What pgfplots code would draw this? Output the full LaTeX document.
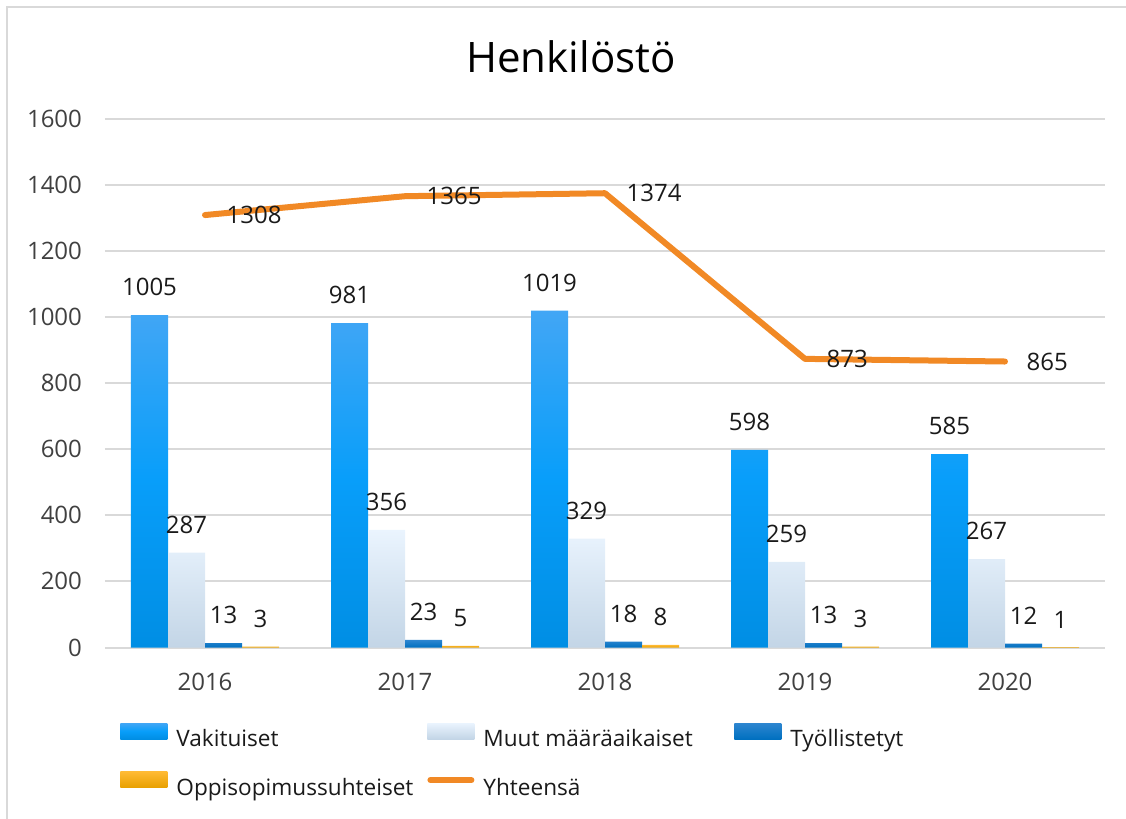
\documentclass[border=0pt]{standalone}
\usepackage{fontspec}
\setmainfont{Open Sans}
\usepackage{pgfplots}
\pgfplotsset{compat=1.18}

\definecolor{gridgray}{RGB}{217,217,217}
\definecolor{ticktext}{RGB}{64,64,64}
\definecolor{labeltext}{RGB}{26,26,26}
\definecolor{vakTop}{RGB}{66,166,245}
\definecolor{vakMid}{RGB}{8,158,250}
\definecolor{vakBot}{RGB}{0,142,228}
\definecolor{muuTop}{RGB}{234,244,254}
\definecolor{muuBot}{RGB}{195,213,230}
\definecolor{tyoTop}{RGB}{46,134,208}
\definecolor{tyoBot}{RGB}{0,112,192}
\definecolor{oppTop}{RGB}{255,186,52}
\definecolor{oppBot}{RGB}{232,160,0}
\definecolor{lineorange}{RGB}{241,137,37}

\pgfplotsset{
  barpatch/.style={legend image code/.code={\path[##1] (0pt,0.3pt) rectangle (23.5pt,8.3pt);}},
  linepatch/.style={legend image code/.code={\draw[##1] (1.5pt,4.1pt) -- (22pt,4.1pt);}},
  % labels sit above the bar, shifted like the bar itself
  barlabels/.style={nodes near coords,
    every node near coord/.append style={font=\fontsize{12}{14}\selectfont, text=labeltext,
      yshift=6pt, xshift=#1}},
}

\begin{document}
\begin{tikzpicture}
\path[use as bounding box] (0,0) rectangle (563pt,-409.5pt);
\draw[gridgray, line width=1pt] (3.5pt,-409.5pt) -- (3.5pt,-3.5pt) -- (563pt,-3.5pt);
\node[font=\fontsize{21}{25}\selectfont, text=black] at (285.5pt,-28.5pt) {Henkilöstö};
\begin{axis}[
  at={(52.5pt,-323.75pt)}, anchor=south west,
  scale only axis, width=500pt, height=264.5pt,
  xmin=-0.5, xmax=4.5, ymin=0, ymax=1600,
  xtick={0,1,2,3,4}, xticklabels={2016,2017,2018,2019,2020},
  ytick={0,200,...,1600},
  ymajorgrids, grid style={gridgray, line width=1pt},
  axis line style={draw=none},
  major tick length=0pt,
  tick label style={font=\fontsize{12}{14}\selectfont, text=ticktext},
  /pgf/number format/assume math mode=true,
  /pgf/number format/1000 sep={},
  yticklabel style={xshift=-8pt},
  xticklabel style={yshift=-9.5pt},
  clip=false,
  legend columns=3,
  legend style={draw=none, fill=none, inner sep=0pt,
    at={(0.015,-0.142)}, anchor=north west,
    font=\fontsize{11.3}{13.5}\selectfont, text=labeltext,
    row sep=11pt,
    nodes={inner sep=0pt},
    /tikz/every odd column/.append style={column sep=4.5pt}},
  legend cell align=left,
]
% Vakituiset
\addplot[ybar, bar width=18.5pt, bar shift=-27.75pt, draw=none,
  top color=vakTop, bottom color=vakBot, middle color=vakMid, barpatch, barlabels=-27.75pt]
  coordinates {(0,1005) (1,981) (2,1019) (3,598) (4,585)};
\addlegendentry{\makebox[125.5pt][l]{Vakituiset}}
% Muut maaraaikaiset
\addplot[ybar, bar width=18.5pt, bar shift=-9.25pt, draw=none,
  top color=muuTop, bottom color=muuBot, barpatch, barlabels=-9.25pt]
  coordinates {(0,287) (1,356) (2,329) (3,259) (4,267)};
\addlegendentry{\makebox[125.5pt][l]{Muut määräaikaiset}}
% Tyollistetyt
\addplot[ybar, bar width=18.5pt, bar shift=9.25pt, draw=none,
  top color=tyoTop, bottom color=tyoBot, barpatch, barlabels=9.25pt]
  coordinates {(0,13) (1,23) (2,18) (3,13) (4,12)};
\addlegendentry{\makebox[125.5pt][l]{Työllistetyt}}
% Oppisopimussuhteiset
\addplot[ybar, bar width=18.5pt, bar shift=27.75pt, draw=none,
  top color=oppTop, bottom color=oppBot, barpatch, barlabels=27.75pt]
  coordinates {(0,3) (1,5) (2,8) (3,3) (4,1)};
\addlegendentry{\makebox[125.5pt][l]{Oppisopimussuhteiset}}
% Yhteensa
\addplot[sharp plot, color=lineorange, line width=3pt, line cap=round, line join=round,
  linepatch, nodes near coords,
  every node near coord/.append style={font=\fontsize{12}{14}\selectfont, text=labeltext,
    anchor=west, xshift=6pt}]
  coordinates {(0,1308) (1,1365) (2,1374) (3,873) (4,865)};
\addlegendentry{\makebox[125.5pt][l]{Yhteensä}}
\end{axis}
\end{tikzpicture}
\end{document}
